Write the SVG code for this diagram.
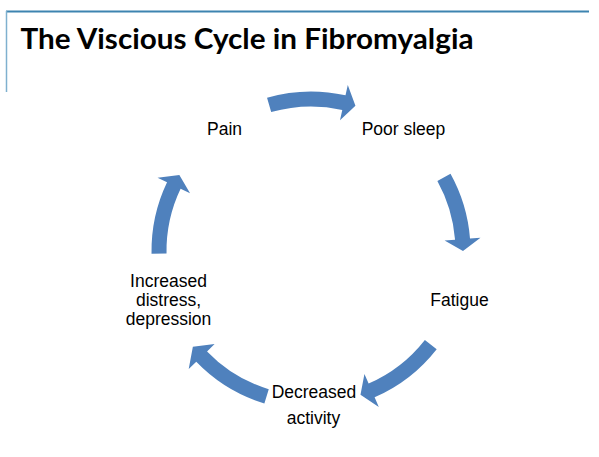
<svg xmlns="http://www.w3.org/2000/svg" width="599" height="457" viewBox="0 0 599 457">
  <style>
    .lbl { font-family: "Liberation Sans", Arial, sans-serif; font-size: 17.5px; fill: #000; text-anchor: middle; }
    .title { font-family: Lato, "Open Sans", sans-serif; font-weight: bold; font-size: 28px; fill: #000; }
    .arr { fill: #4f81bd; stroke: none; }
  </style>
  <rect x="0" y="0" width="599" height="457" fill="#ffffff"/>
  <g id="frame">
    <line x1="6" y1="11.5" x2="589" y2="11.5" stroke="#3d84b0" stroke-width="1.8"/>
    <line x1="6.5" y1="11" x2="6.5" y2="92" stroke="#7fb0cf" stroke-width="1.5"/>
  </g>
  <text class="title" x="20.5" y="48.5" textLength="453" lengthAdjust="spacingAndGlyphs">The Viscious Cycle in Fibromyalgia</text>

  <g id="connectors">
    <path class="arr" d="M267.04,97.68 A159.5,159.5 0 0 1 345.52,95.28 L347.79,85.03 L355.44,105.64 L340.00,120.18 L342.28,109.92 A144.5,144.5 0 0 0 271.17,112.10 Z"/>
    <path class="arr" d="M450.50,173.67 A159.5,159.5 0 0 1 470.01,238.49 L480.48,237.66 L463,251 L444.59,240.49 L455.06,239.66 A144.5,144.5 0 0 0 437.38,180.94 Z"/>
    <path class="arr" d="M436.69,349.20 A159.5,159.5 0 0 1 374.60,397.27 L378.79,406.90 L360.49,394.72 L364.43,373.89 L368.62,383.52 A144.5,144.5 0 0 0 424.87,339.96 Z"/>
    <path class="arr" d="M264.37,403.53 A159.5,159.5 0 0 1 196.27,361.80 L188.71,369.09 L192.87,346.66 L214.61,344.08 L207.06,351.38 A144.5,144.5 0 0 0 268.75,389.19 Z"/>
    <path class="arr" d="M151.52,253.78 A159.5,159.5 0 0 1 167.04,182.33 L157.56,177.81 L179.36,175 L190.05,193.31 L180.58,188.79 A144.5,144.5 0 0 0 166.52,253.52 Z"/>
  </g>

  <g id="node-pain"><text class="lbl" x="224.5" y="135">Pain</text></g>
  <g id="node-poor-sleep"><text class="lbl" x="403.5" y="135">Poor sleep</text></g>
  <g id="node-fatigue"><text class="lbl" x="459.5" y="306">Fatigue</text></g>
  <g id="node-decreased-activity">
    <text class="lbl" x="314" y="398">Decreased</text>
    <text class="lbl" x="313.5" y="424">activity</text>
  </g>
  <g id="node-distress">
    <text class="lbl" x="168.5" y="287">Increased</text>
    <text class="lbl" x="168.5" y="306">distress,</text>
    <text class="lbl" x="168.5" y="325">depression</text>
  </g>
</svg>
